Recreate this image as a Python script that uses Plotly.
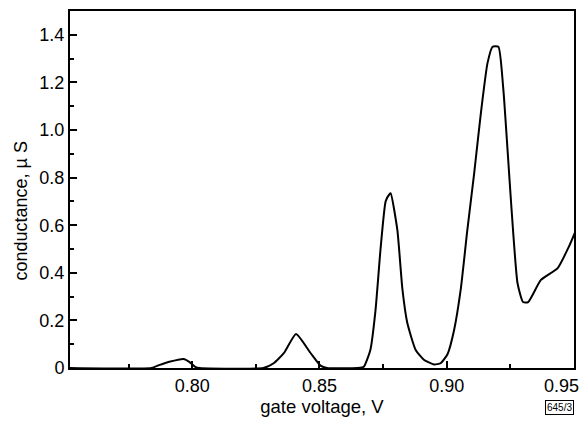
import plotly.graph_objects as go

gate_voltage = [0.752, 0.784, 0.787, 0.791, 0.7966, 0.799, 0.8012, 0.803,
                0.828, 0.832, 0.836, 0.8408, 0.8465, 0.8504, 0.853,
                0.865, 0.8674, 0.870, 0.872, 0.874, 0.876, 0.8775, 0.878,
                0.8806, 0.8826, 0.8845, 0.8878, 0.891, 0.895, 0.8976,
                0.9003, 0.9029, 0.9055, 0.9081, 0.9108, 0.9134, 0.916,
                0.918, 0.9203, 0.9222, 0.9278, 0.930, 0.932, 0.937,
                0.9436, 0.948, 0.9508]
conductance = [0.0, 0.0, 0.012, 0.026, 0.038, 0.025, 0.005, 0.0,
               0.0, 0.02, 0.062, 0.143, 0.063, 0.01, 0.0,
               0.0, 0.005, 0.076, 0.24, 0.5, 0.70, 0.73, 0.734,
               0.58, 0.33, 0.19, 0.076, 0.035, 0.015, 0.02,
               0.058, 0.16, 0.33, 0.58, 0.82, 1.07, 1.28,
               1.35, 1.35, 1.176, 0.357, 0.277, 0.277, 0.37,
               0.42, 0.51, 0.58]

x_tickvals = [0.80, 0.85, 0.90, 0.95]
x_ticktext = ["0.80", "0.85", "0.90", "0.95"]
y_tickvals = [0, 0.2, 0.4, 0.6, 0.8, 1.0, 1.2, 1.4]
y_ticktext = ["0", "0.2", "0.4", "0.6", "0.8", "1.0", "1.2", "1.4"]

fig = go.Figure()
fig.add_trace(go.Scatter(
    x=gate_voltage, y=conductance, mode="lines",
    line=dict(color="black", width=2, shape="spline", smoothing=0.5),
    showlegend=False, hoverinfo="skip"))

ff = "Liberation Sans, Arial, sans-serif"

# the last x tick label sits flush with the right frame edge, as in the reference
shown_ticktext = x_ticktext[:-1] + [""]

fig.update_layout(
    width=580, height=413,
    margin=dict(l=62, r=14, t=3, b=53, autoexpand=False),
    paper_bgcolor="white", plot_bgcolor="white",
    font=dict(family=ff, color="black", size=18),
    xaxis=dict(range=[0.752, 0.95], tickvals=x_tickvals, ticktext=shown_ticktext,
               ticks="inside", ticklen=7, tickwidth=1.5, tickcolor="black",
               showline=True, linecolor="black", linewidth=2, mirror=True,
               showgrid=False, zeroline=False, automargin=False,
               minor=dict(tickvals=[0.775, 0.825, 0.875, 0.925], ticks="inside",
                          ticklen=4, tickwidth=1.5, tickcolor="black"),
               tickfont=dict(size=18),
               title=dict(text="gate voltage, V", font=dict(size=18.5), standoff=0)),
    yaxis=dict(range=[0, 1.5], tickvals=y_tickvals, ticktext=y_ticktext,
               ticks="inside", ticklen=7, tickwidth=1.5, tickcolor="black",
               showline=True, linecolor="black", linewidth=2, mirror=True,
               showgrid=False, zeroline=False, automargin=False,
               minor=dict(tickvals=[0.1, 0.3, 0.5, 0.7, 0.9, 1.1, 1.3],
                          ticks="inside", ticklen=4, tickwidth=1.5, tickcolor="black"),
               tickfont=dict(size=18)),
    annotations=[
        dict(text=x_ticktext[-1], xref="x", yref="paper", x=x_tickvals[-1], y=0,
             xanchor="right", yanchor="middle", xshift=7, yshift=-18,
             showarrow=False, font=dict(size=18, family=ff)),
        dict(text="conductance, \u00b5 S", xref="paper", yref="paper",
             x=-0.098, y=0.44, xanchor="center", yanchor="middle",
             textangle=-90, showarrow=False, font=dict(size=18, family=ff)),
        dict(text="645/3", xref="paper", yref="paper", x=1.0, y=-0.11,
             xanchor="right", yanchor="middle", showarrow=False,
             font=dict(size=10, family=ff),
             bordercolor="black", borderwidth=1, borderpad=1)],
)

fig.write_html("out.html")
